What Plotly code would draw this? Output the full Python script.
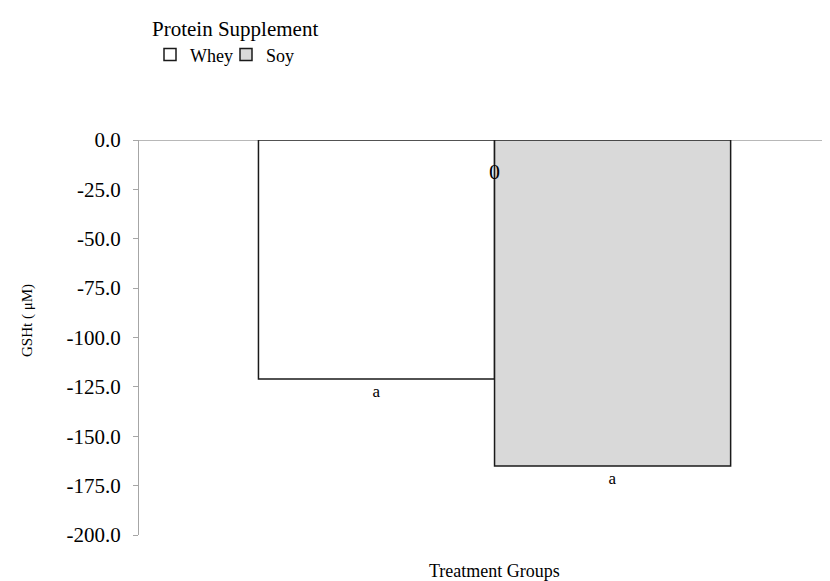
import plotly.graph_objects as go

# Data
categories = ["Treatment Groups"]
series_names = ["Whey", "Soy"]
whey_values = [-121.0]
soy_values = [-165.0]
sig_labels_whey = ["a"]
sig_labels_soy = ["a"]
y_ticks = [0, -25, -50, -75, -100, -125, -150, -175, -200]
y_tick_labels = ["0.0", "-25.0", "-50.0", "-75.0", "-100.0", "-125.0",
                 "-150.0", "-175.0", "-200.0"]

FONT = "Liberation Serif, Times New Roman, serif"

fig = go.Figure()
fig.add_trace(go.Bar(
    x=categories, y=whey_values, name=series_names[0],
    marker=dict(color="#ffffff", line=dict(color="#1a1a1a", width=1.5)),
    text=sig_labels_whey, textposition="outside",
    textfont=dict(family=FONT, size=17, color="#000"),
    cliponaxis=False,
))
fig.add_trace(go.Bar(
    x=categories, y=soy_values, name=series_names[1],
    marker=dict(color="#d9d9d9", line=dict(color="#1a1a1a", width=1.5)),
    text=sig_labels_soy, textposition="outside",
    textfont=dict(family=FONT, size=17, color="#000"),
    cliponaxis=False,
))

fig.update_layout(
    width=830, height=581,
    margin=dict(l=131, r=0, t=132, b=54),
    paper_bgcolor="white", plot_bgcolor="white",
    barmode="group", bargap=0.336, bargroupgap=0,
    font=dict(family=FONT, color="#000"),
    showlegend=True,
    legend=dict(
        orientation="h",
        xref="container", yref="container",
        x=142 / 830, y=1 - 1 / 581, xanchor="left", yanchor="top",
        title=dict(text="Protein Supplement", side="top",
                   font=dict(family=FONT, size=21, color="#000")),
        font=dict(family=FONT, size=18, color="#000"),
        entrywidth=31, entrywidthmode="pixels",
        bgcolor="rgba(0,0,0,0)",
    ),
    xaxis=dict(
        range=[-0.5, 0.483], showticklabels=False, ticks="",
        showline=False, showgrid=False, zeroline=False,
    ),
    yaxis=dict(
        range=[-200, 0], tickvals=y_ticks, ticktext=y_tick_labels,
        showline=True, linecolor="#a6a6a6", linewidth=1,
        ticks="outside", ticklen=5, tickcolor="#a6a6a6",
        showgrid=False, zeroline=False,
        tickfont=dict(family=FONT, size=21, color="#000"),
        ticklabelstandoff=8,
    ),
    shapes=[dict(type="line", xref="paper", x0=0, x1=1, yref="y", y0=0, y1=0,
                 line=dict(color="#a0a0a0", width=1.5), layer="below")],
    annotations=[
        dict(text="GSHt ( μM)", textangle=-90, xref="paper", yref="paper",
             x=-131 / 699 + 19 / 699, y=(527 - 313) / 395,
             xanchor="center", yanchor="middle", showarrow=False,
             font=dict(family=FONT, size=15, color="#000")),
        dict(text="Treatment Groups", xref="x", yref="paper",
             x=0, y=-(563 - 527) / 395, xanchor="center", yanchor="middle",
             showarrow=False, font=dict(family=FONT, size=18, color="#000")),
        dict(text="0", xref="x", yref="y", x=0, y=-16,
             xanchor="center", yanchor="middle", showarrow=False,
             font=dict(family=FONT, size=22, color="#000")),
    ],
)

fig.write_html("out.html")
